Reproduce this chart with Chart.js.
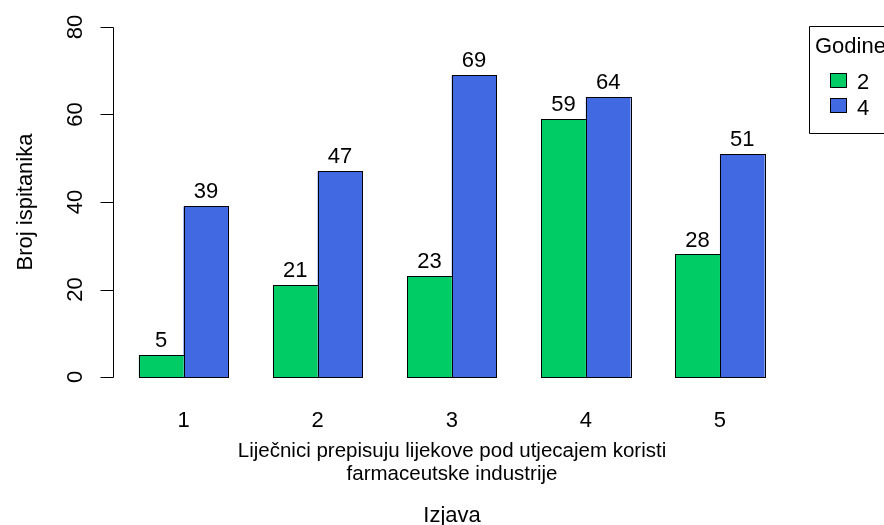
<!DOCTYPE html>
<html>
<head>
<meta charset="utf-8">
<script src="https://cdn.jsdelivr.net/npm/chart.js@4/dist/chart.umd.min.js"></script>
<style>
html,body{margin:0;padding:0;background:#fff;}
canvas{display:block;}
</style>
</head>
<body>
<canvas id="c" width="884" height="525"></canvas>
<script>
const categories = ['1', '2', '3', '4', '5'];
const seriesNames = ['2', '4'];
const godine2 = [5, 21, 23, 59, 28];
const godine4 = [39, 47, 69, 64, 51];
const yTicks = [0, 20, 40, 60, 80];
const xSubtitle = ['Liječnici prepisuju lijekove pod utjecajem koristi', 'farmaceutske industrije'];
const xTitle = 'Izjava';
const yTitle = 'Broj ispitanika';
const legendTitle = 'Godine';
const colors = ['#00CC66', '#4169E1'];

const FONT = '"Liberation Sans", Arial, sans-serif';

const decor = {
  id: 'decor',
  afterDatasetsDraw(chart) {
    const ctx = chart.ctx;
    ctx.save();
    ctx.strokeStyle = '#000';
    ctx.lineWidth = 1;
    chart.data.datasets.forEach((ds, di) => {
      const meta = chart.getDatasetMeta(di);
      meta.data.forEach(bar => {
        const l = Math.round(bar.x - bar.width / 2) + 0.5;
        const r = Math.round(bar.x + bar.width / 2) + 0.5;
        const t = Math.round(bar.y) + 0.5;
        const b = Math.round(bar.base) + 0.5;
        ctx.strokeRect(l, t, r - l, b - t);
      });
    });
    ctx.restore();
  },
  afterDraw(chart) {
    const ctx = chart.ctx;
    const ys = chart.scales.y;
    const xs = chart.scales.x;
    ctx.save();
    ctx.fillStyle = '#000';
    ctx.strokeStyle = '#000';
    ctx.lineWidth = 1;

    // value labels
    ctx.font = '22px ' + FONT;
    ctx.textAlign = 'center';
    ctx.textBaseline = 'alphabetic';
    chart.data.datasets.forEach((ds, di) => {
      const meta = chart.getDatasetMeta(di);
      meta.data.forEach((bar, i) => {
        ctx.fillText(String(ds.data[i]), bar.x, bar.y - 8);
      });
    });

    // y axis
    const axX = 113.5;
    const y0 = Math.round(ys.getPixelForValue(yTicks[0])) + 0.5;
    const y1 = Math.round(ys.getPixelForValue(yTicks[yTicks.length - 1])) + 0.5;
    ctx.beginPath();
    ctx.moveTo(axX, y0);
    ctx.lineTo(axX, y1);
    yTicks.forEach(t => {
      const py = Math.round(ys.getPixelForValue(t)) + 0.5;
      ctx.moveTo(axX, py);
      ctx.lineTo(axX - 13, py);
    });
    ctx.stroke();
    ctx.font = '22px ' + FONT;
    yTicks.forEach(t => {
      const py = ys.getPixelForValue(t);
      ctx.save();
      ctx.translate(81.5, py);
      ctx.rotate(-Math.PI / 2);
      ctx.textAlign = 'center';
      ctx.fillText(String(t), 0, 0);
      ctx.restore();
    });

    // y title
    ctx.save();
    ctx.translate(32, (ys.getPixelForValue(ys.min) + ys.getPixelForValue(ys.max)) / 2);
    ctx.rotate(-Math.PI / 2);
    ctx.textAlign = 'center';
    ctx.fillText(yTitle, 0, 0);
    ctx.restore();

    // x tick labels
    ctx.textAlign = 'center';
    categories.forEach((c, i) => {
      ctx.fillText(c, xs.getPixelForValue(i), 427);
    });

    const cx = 452;
    ctx.font = '20.5px ' + FONT;
    ctx.fillText(xSubtitle[0], cx, 456.5);
    ctx.fillText(xSubtitle[1], cx, 479.5);
    ctx.font = '22px ' + FONT;
    ctx.fillText(xTitle, cx, 521.5);

    // legend
    ctx.beginPath();
    ctx.rect(809.5, 26.5, 200, 107);
    ctx.stroke();
    ctx.textAlign = 'left';
    ctx.fillText(legendTitle, 815, 53);
    const sqY = [73.5, 98.5];
    const txtY = [89, 115];
    seriesNames.forEach((n, i) => {
      ctx.fillStyle = colors[i];
      ctx.fillRect(830.5, sqY[i], 16, 14);
      ctx.strokeRect(830.5, sqY[i], 16, 14);
      ctx.fillStyle = '#000';
      ctx.fillText(n, 857, txtY[i]);
    });
    ctx.restore();
  }
};

new Chart(document.getElementById('c'), {
  type: 'bar',
  data: {
    labels: categories,
    datasets: [
      { label: seriesNames[0], data: godine2, backgroundColor: colors[0], borderWidth: 0, categoryPercentage: 2 / 3, barPercentage: 1 },
      { label: seriesNames[1], data: godine4, backgroundColor: colors[1], borderWidth: 0, categoryPercentage: 2 / 3, barPercentage: 1 }
    ]
  },
  options: {
    responsive: false,
    devicePixelRatio: 1,
    animation: false,
    layout: { padding: { left: 116.5, right: 97, top: 13, bottom: 134 } },
    plugins: { legend: { display: false }, tooltip: { enabled: false }, title: { display: false } },
    scales: {
      x: { display: false, grid: { display: false } },
      y: { display: false, min: -3.2, max: 83.2, grid: { display: false } }
    }
  },
  plugins: [decor]
});
</script>
</body>
</html>
